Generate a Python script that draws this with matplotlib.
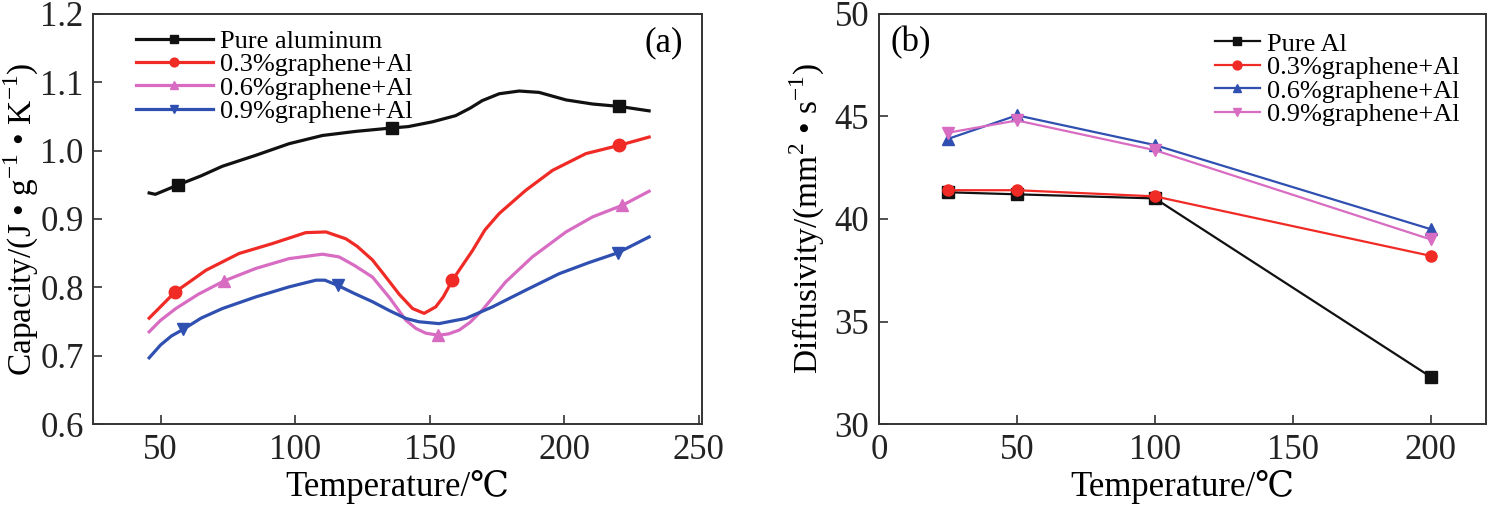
import numpy as np
import matplotlib
matplotlib.use("Agg")
import matplotlib.pyplot as plt

plt.rcParams['font.family'] = ['Liberation Serif', 'DejaVu Serif', 'DejaVu Sans']
plt.rcParams['mathtext.fontset'] = 'custom'
plt.rcParams['mathtext.rm'] = 'Liberation Serif'

# ---- panel (a): specific heat capacity curves ----
t_pure = [45.7, 48, 56.6, 65, 72.9, 85.3, 97.7, 110.1, 122.5, 135.9, 142, 151,
          159.6, 165, 169.5, 175.8, 183.2, 190.6, 200.6, 210.5, 220.4, 231.5]
c_pure = [0.938, 0.936, 0.950, 0.963, 0.977, 0.993, 1.010, 1.022, 1.028, 1.033, 1.035, 1.042,
          1.051, 1.062, 1.073, 1.083, 1.087, 1.085, 1.074, 1.068, 1.0645, 1.058]
m_pure = [56.6, 135.9, 220.4]

t_03 = [45.7, 50, 55.4, 60, 66.8, 79.1, 91.5, 103.9, 111.4, 118.8, 123, 128.7, 133.5,
        138.6, 143.6, 147.9, 152.2, 155, 158.4, 165.9, 170.5, 175.8, 185.7, 195.6,
        208, 220.4, 231.5]
c_03 = [0.755, 0.772, 0.7935, 0.806, 0.825, 0.8495, 0.864, 0.880, 0.881, 0.871, 0.860, 0.840, 0.816,
        0.790, 0.769, 0.762, 0.7715, 0.786, 0.8105, 0.854, 0.884, 0.908, 0.942, 0.971,
        0.9955, 1.0076, 1.0197]
m_03 = [55.4, 158.4, 220.4]

t_06 = [45.7, 50, 55.6, 64, 73.6, 85.3, 97.7, 110.1, 116.3, 122, 128.7, 135, 141.1,
        144.8, 148.5, 153.2, 157, 160.9, 165, 169.5, 178.2, 188.1, 200.6, 210.5, 221.6, 231.5]
c_06 = [0.735, 0.752, 0.769, 0.790, 0.8095, 0.8276, 0.842, 0.8485, 0.8445, 0.832, 0.815, 0.785, 0.752,
        0.740, 0.733, 0.730, 0.732, 0.7375, 0.749, 0.7667, 0.808, 0.8445, 0.881, 0.903, 0.920, 0.9405]
m_06 = [73.6, 153.2, 221.6]

t_09 = [45.7, 50, 54, 58.3, 65, 72.9, 85.3, 97.7, 107.7, 111, 115.7, 122, 128.7, 135,
        141.1, 146, 153.4, 163.4, 173.3, 185.7, 198.1, 209, 219.8, 231.5]
c_09 = [0.697, 0.716, 0.729, 0.7385, 0.755, 0.769, 0.786, 0.8007, 0.8105, 0.8105, 0.803, 0.791, 0.779, 0.766,
        0.7546, 0.7497, 0.747, 0.7546, 0.7715, 0.796, 0.820, 0.836, 0.8504, 0.8737]
m_09 = [58.3, 115.7, 219.8]

labels_a = ['Pure aluminum', '0.3%graphene+Al', '0.6%graphene+Al', '0.9%graphene+Al']

# ---- panel (b): thermal diffusivity ----
t_b = [25, 50, 100, 200]
d_pure = [41.3, 41.2, 41.0, 32.3]
d_03 = [41.4, 41.4, 41.1, 38.2]
d_06 = [43.9, 45.05, 43.6, 39.5]
d_09 = [44.2, 44.8, 43.35, 39.0]
labels_b = ['Pure Al', '0.3%graphene+Al', '0.6%graphene+Al', '0.9%graphene+Al']

black = '#111111'
red = '#f02a25'
pink = '#d86cc2'
blue = '#2f50b0'

fig = plt.figure(figsize=(14.88, 5.08), dpi=100)
ax1 = fig.add_axes([0.0628, 0.165, 0.4087, 0.808])
ax2 = fig.add_axes([0.5907, 0.165, 0.408, 0.808])

series_a = [(t_pure, c_pure, m_pure, black, 's'),
            (t_03, c_03, m_03, red, 'o'),
            (t_06, c_06, m_06, pink, '^'),
            (t_09, c_09, m_09, blue, 'v')]
for (t, c, m, col, mk), lab in zip(series_a, labels_a):
    idx = [i for i, v in enumerate(t) if v in m]
    ax1.plot(t, c, color=col, lw=2.3, marker=mk, ms=9, markevery=idx, label=lab)

series_b = [(d_pure, black, 's'), (d_03, red, 'o'), (d_06, blue, '^'), (d_09, pink, 'v')]
for (d, col, mk), lab in zip(series_b, labels_b):
    ax2.plot(t_b, d, color=col, lw=1.6, marker=mk, ms=8, label=lab)

ax1.set_xlim(25, 251)
ax1.set_ylim(0.6, 1.2)
ax1.set_xticks([50, 100, 150, 200, 250])
ax1.set_yticks(np.arange(0.6, 1.21, 0.1))
ax1.yaxis.set_major_formatter(matplotlib.ticker.FormatStrFormatter('%.1f'))
ax1.set_xlabel('Temperature/℃', fontsize=25, labelpad=2)
ax1.set_ylabel(r'Capacity/(J • g$^{\mathrm{-1}}$ • K$^{\mathrm{-1}}$)', fontsize=24)
ax1.yaxis.set_label_coords(-0.087, 0.5)
ax1.text(0.937, 0.93, '(a)', transform=ax1.transAxes, fontsize=25, ha='center', va='center')

ax2.set_xlim(0, 220)
ax2.set_ylim(30, 50)
ax2.set_xticks([0, 50, 100, 150, 200])
ax2.set_yticks([30, 35, 40, 45, 50])
ax2.set_xlabel('Temperature/℃', fontsize=25, labelpad=2)
ax2.set_ylabel(r'Diffusivity/(mm$^{\mathrm{2}}$ • s$^{\mathrm{-1}}$)', fontsize=24)
ax2.yaxis.set_label_coords(-0.085, 0.5)
ax2.text(0.053, 0.93, '(b)', transform=ax2.transAxes, fontsize=25, ha='center', va='center')

for ax in (ax1, ax2):
    ax.tick_params(direction='in', length=6.5, width=1.1, labelsize=25, pad=7, colors='#222222')
    for s in ax.spines.values():
        s.set_linewidth(1.4)
        s.set_color('#333333')

ax1.legend(loc='upper left', bbox_to_anchor=(0.07, 0.962), frameon=False, fontsize=19,
           handlelength=2.9, handletextpad=0.3, labelspacing=0.0, borderpad=0, borderaxespad=0,
           markerscale=0.7)
ax2.legend(loc='upper left', bbox_to_anchor=(0.553, 0.955), frameon=False, fontsize=19,
           handlelength=1.7, handletextpad=0.3, labelspacing=0.0, borderpad=0, borderaxespad=0,
           markerscale=0.8)

fig.savefig('out.png', dpi=100)
